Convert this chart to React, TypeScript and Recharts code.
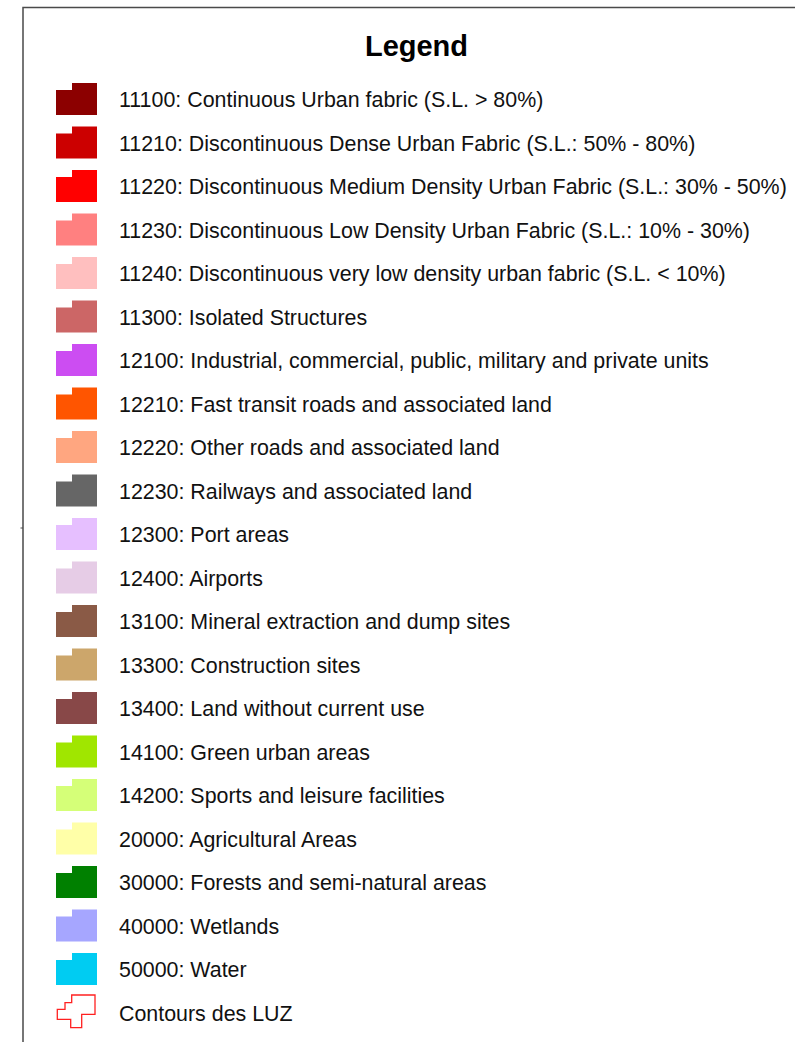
import React from 'react';
import { BarChart, Bar, XAxis, YAxis, Legend } from 'recharts';

// land use classes (Urban Atlas nomenclature)
const codes = [
  '11100', '11210', '11220', '11230', '11240', '11300', '12100', '12210', '12220', '12230', '12300',
  '12400', '13100', '13300', '13400', '14100', '14200', '20000', '30000', '40000', '50000',
];
const labels = [
  'Continuous Urban fabric (S.L. > 80%)',
  'Discontinuous Dense Urban Fabric (S.L.: 50% - 80%)',
  'Discontinuous Medium Density Urban Fabric (S.L.: 30% - 50%)',
  'Discontinuous Low Density Urban Fabric (S.L.: 10% - 30%)',
  'Discontinuous very low density urban fabric (S.L. < 10%)',
  'Isolated Structures',
  'Industrial, commercial, public, military and private units',
  'Fast transit roads and associated land',
  'Other roads and associated land',
  'Railways and associated land',
  'Port areas',
  'Airports',
  'Mineral extraction and dump sites',
  'Construction sites',
  'Land without current use',
  'Green urban areas',
  'Sports and leisure facilities',
  'Agricultural Areas',
  'Forests and semi-natural areas',
  'Wetlands',
  'Water',
];
const colors = [
  '#8C0000', '#CC0000', '#FF0000', '#FF8080', '#FFBFBF', '#CC6666', '#CC4DF2', '#FF5500', '#FFA680',
  '#666666', '#E6BFFF', '#E6CCE6', '#8A5A46', '#CCA66B', '#884848', '#A0E600', '#D5FF78', '#FFFFA8',
  '#008000', '#A6A6FF', '#00CCF2',
];
const contourKey = 'LUZ';
const contourLabel = 'Contours des LUZ';
const contourColor = '#FF2020';

const data = [
  {
    name: 'LUZ',
    ...Object.fromEntries(codes.map((c) => [c, 0])),
    [contourKey]: 0,
  },
];

const W = 795;
const H = 1042;
const ROW0 = 83;
const STEP = 43.5;

const LegendBox = ({ payload }: any) => {
  const order = [...codes, contourKey];
  const items = [...(payload ?? [])].sort(
    (a: any, b: any) => order.indexOf(String(a.dataKey)) - order.indexOf(String(b.dataKey)),
  );

  return (
    <svg width={W} height={H} style={{ display: 'block' }}>
      <path d={`M23 ${H} V7.5 H${W}`} fill="none" stroke="#4a4a4a" strokeWidth={1.5} />
      <line x1={20.5} x2={23} y1={528} y2={528} stroke="#4a4a4a" strokeWidth={1} />
      <text
        x={416.5}
        y={56}
        textAnchor="middle"
        fontFamily="'Liberation Sans', Arial, sans-serif"
        fontWeight="bold"
        fontSize={29}
        fill="#000"
      >
        Legend
      </text>
      {items.map((entry: any, i: number) => {
        const top = ROW0 + i * STEP;
        const isContour = entry.dataKey === contourKey;
        const text = isContour ? entry.value : `${entry.dataKey}: ${entry.value}`;
        return (
          <g key={String(entry.dataKey)}>
            {isContour ? (
              <path
                d={`M71.7 ${top - 1.5} H95 V${top + 17.8} H81.7 V${top + 31.2} H70.7 V${top + 22.8} H57.3 V${
                  top + 12.8
                } H65 V${top + 6.2} H71.7 Z`}
                fill="none"
                stroke={contourColor}
                strokeWidth={1.3}
              />
            ) : (
              <path d={`M56 ${top + 7} H72 V${top} H97 V${top + 32} H56 Z`} fill={entry.color} />
            )}
            <text
              x={119}
              y={top + 24}
              fontFamily="'Liberation Sans', Arial, sans-serif"
              fontSize={21.4}
              fill="#111"
            >
              {text}
            </text>
          </g>
        );
      })}
    </svg>
  );
};

export default function App() {
  return (
    <div style={{ position: 'absolute', left: 0, top: 0, width: W, height: H, background: '#fff' }}>
      <BarChart width={W} height={H} data={data} margin={{ top: 0, right: 0, bottom: 0, left: 0 }}>
        <XAxis dataKey="name" hide />
        <YAxis hide />
        {codes.map((c, i) => (
          <Bar key={c} dataKey={c} name={labels[i]} fill={colors[i]} isAnimationActive={false} />
        ))}
        <Bar
          dataKey={contourKey}
          name={contourLabel}
          fill="none"
          stroke={contourColor}
          isAnimationActive={false}
        />
        <Legend
          content={<LegendBox />}
          layout="vertical"
          verticalAlign="top"
          align="left"
          wrapperStyle={{ top: 0, left: 0, width: W, height: H, margin: 0, padding: 0 }}
        />
      </BarChart>
    </div>
  );
}
